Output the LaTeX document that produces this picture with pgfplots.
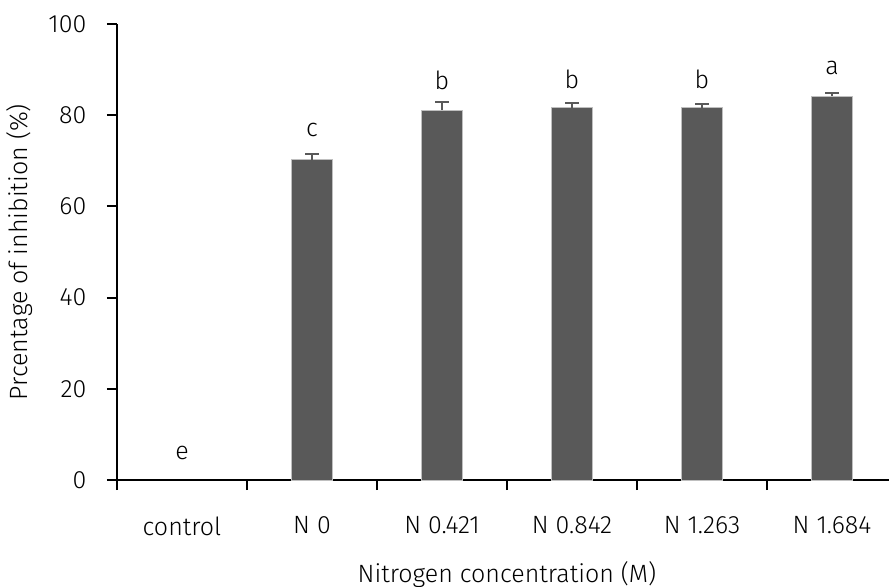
\documentclass[border=0pt]{standalone}
\usepackage{fontspec}
\setmainfont{Fira Sans}[UprightFont=* Light]
\usepackage{pgfplots}
\pgfplotsset{compat=1.18}
\definecolor{barc}{HTML}{595959}
\definecolor{edgec}{HTML}{BFBFBF}
\begin{document}
\fontsize{12.5bp}{15bp}\selectfont
\begin{tikzpicture}
\begin{axis}[
  scale only axis, width=390bp, height=228bp,
  at={(0,0)}, anchor=south west,
  xmin=-0.5, xmax=5.5, ymin=0, ymax=100,
  axis x line=bottom, axis y line=left,
  axis line style={-, line width=1bp, black},
  xtick={0,...,5},
  xticklabels={control, N 0, N 0.421, N 0.842, N 1.263, N 1.684},
  major x tick style={draw=none},
  minor xtick={-0.5,0.5,...,5.5},
  ytick={0,20,...,100},
  tick align=outside,
  tick style={line width=1bp, black},
  major tick length=5bp, minor tick length=5bp,
  /pgf/number format/assume math mode=true,
  ticklabel style={font=\fontsize{12.5bp}{15bp}\selectfont},
  xticklabel style={yshift=-9bp},
  yticklabel style={xshift=-6bp},
  xlabel={Nitrogen concentration (M)},
  ylabel={Prcentage of inhibition (\%)},
  label style={font=\fontsize{12.5bp}{15bp}\selectfont},
  xlabel style={at={(axis description cs:0.5,-0.2083)}, anchor=center},
  ylabel style={at={(axis description cs:-0.1244,0.5)}, anchor=center},
  clip=false,
]
\addplot[ybar, bar width=20.5bp, fill=barc, draw=edgec, line width=0.5bp,
  error bars/.cd, y dir=plus, y explicit,
  error bar style={line width=1bp, color=barc},
  error mark options={rotate=90, mark size=3.5bp, line width=1bp, color=barc}]
  table[x=x, y=y, y error=e] {
x y e
1 70.2 1.4
2 81.1 1.7
3 81.6 1.1
4 81.6 0.9
5 84.2 0.6
};
\addplot[only marks, mark=none, nodes near coords, point meta=explicit symbolic,
  nodes near coords style={anchor=center, font=\fontsize{12.5bp}{15bp}\selectfont, text=black}]
  table[x=x, y=y, meta=lab] {
x y lab
0 5.9 e
1 76.8 c
2 87.7 b
3 87.9 b
4 87.9 b
5 90.4 a
};
\end{axis}
\pgfresetboundingbox
\useasboundingbox (-58.5bp,-53.5bp) rectangle (386bp,240bp);
\end{tikzpicture}
\end{document}
